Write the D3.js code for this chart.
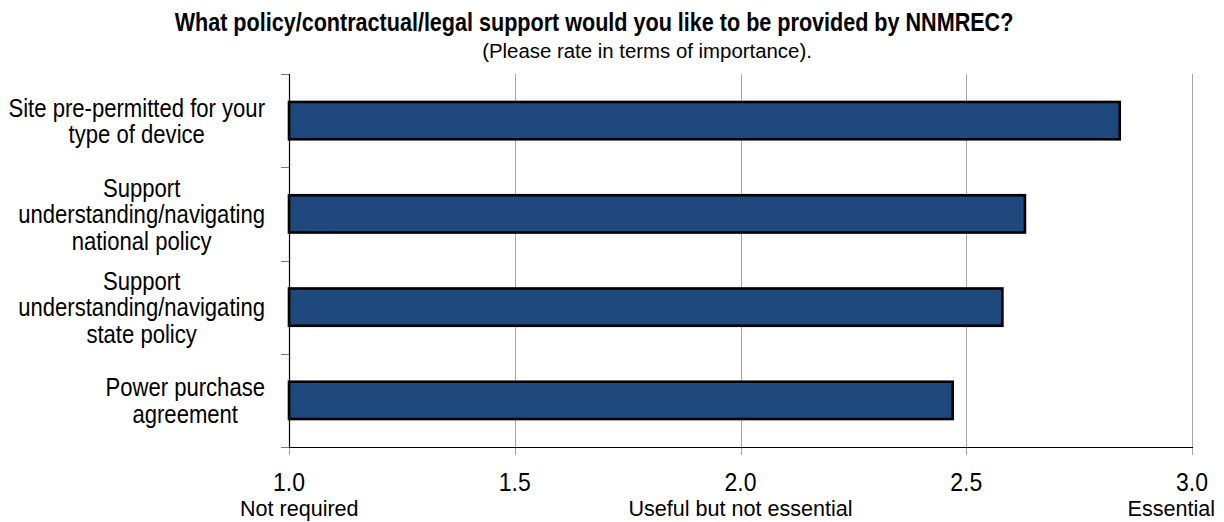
<!DOCTYPE html>
<html>
<head>
<meta charset="utf-8">
<script src="https://cdn.jsdelivr.net/npm/d3@7"></script>
<style>
  html, body { margin: 0; padding: 0; background: #fff; }
  svg { display: block; font-family: "Liberation Sans", Arial, sans-serif; }
</style>
</head>
<body>
<svg id="chart" width="1224" height="522"></svg>
<script>
// Survey answers: average importance rating per support type
const categoryLines = [
  ["Site pre-permitted for your", "type of device"],
  ["Support", "understanding/navigating", "national policy"],
  ["Support", "understanding/navigating", "state policy"],
  ["Power purchase", "agreement"]
];
const values = [2.84, 2.63, 2.58, 2.47];
const tickValues = [1.0, 1.5, 2.0, 2.5, 3.0];
const tickLabels = ["1.0", "1.5", "2.0", "2.5", "3.0"];
const scaleValues = [1.0, 2.0, 3.0];
const scaleLabels = ["Not required", "Useful but not essential", "Essential"];
const titleText = "What policy/contractual/legal support would you like to be provided by NNMREC?";
const subtitleText = "(Please rate in terms of importance).";

const svg = d3.select("#chart");
const plot = { left: 289, right: 1192, top: 74, bottom: 447 };

const x = d3.scaleLinear().domain([1, 3]).range([plot.left, plot.right]);
const y = d3.scaleBand()
  .domain(d3.range(values.length))
  .range([plot.top, plot.bottom])
  .paddingInner(0.6)
  .paddingOuter(0.3);
const step = y.step();

// Text drawn with a horizontal squeeze, anchored at (px, py)
function squeezedText(parent, px, py, str, size, sx, anchor, weight) {
  return parent.append("text")
    .attr("transform", `translate(${px},${py}) scale(${sx},1)`)
    .attr("text-anchor", anchor || "start")
    .attr("font-size", size)
    .attr("font-weight", weight || "normal")
    .attr("fill", "#000")
    .text(str);
}

// Title and subtitle
squeezedText(svg, 594, 31, titleText, 26, 0.83, "middle", "bold");
squeezedText(svg, 647, 58, subtitleText, 20, 1.02, "middle");

// Vertical gridlines (with small ticks below the axis)
svg.append("g").selectAll("line")
  .data(tickValues)
  .join("line")
  .attr("x1", d => Math.round(x(d)) + 0.5)
  .attr("x2", d => Math.round(x(d)) + 0.5)
  .attr("y1", d => d === 1 ? plot.bottom : plot.top)
  .attr("y2", plot.bottom + 8)
  .attr("stroke", "#a6a6a6")
  .attr("stroke-width", 1);

// Bars
svg.append("g").selectAll("rect")
  .data(values)
  .join("rect")
  .attr("x", x(1))
  .attr("y", (d, i) => y(i))
  .attr("width", d => x(d) - x(1))
  .attr("height", y.bandwidth())
  .attr("fill", "#1f497d")
  .attr("stroke", "#000")
  .attr("stroke-width", 2.6);

// Category axis with tick marks at band boundaries
const boundaries = d3.range(values.length + 1).map(i => plot.top + i * step);
svg.append("g").selectAll("line")
  .data(boundaries)
  .join("line")
  .attr("x1", plot.left - 8)
  .attr("x2", plot.left)
  .attr("y1", d => Math.round(d) + 0.5)
  .attr("y2", d => Math.round(d) + 0.5)
  .attr("stroke", "#777")
  .attr("stroke-width", 1);
svg.append("line")
  .attr("x1", plot.left + 0.5).attr("x2", plot.left + 0.5)
  .attr("y1", plot.top).attr("y2", plot.bottom)
  .attr("stroke", "#000").attr("stroke-width", 1.2);

// Value axis line
svg.append("line")
  .attr("x1", plot.left).attr("x2", plot.right + 1)
  .attr("y1", plot.bottom + 0.5).attr("y2", plot.bottom + 0.5)
  .attr("stroke", "#000").attr("stroke-width", 1.2);

// Category labels: centred lines, block aligned to the right of the axis
const catSize = 26, catSx = 0.85, catLh = 26.5, catRight = 265;
const capH = 0.716 * catSize;
const catG = svg.append("g");
categoryLines.forEach((lines, i) => {
  const cy = y(i) + y.bandwidth() / 2;
  const nodes = lines.map((ln, k) => {
    const by = cy + (k - (lines.length - 1) / 2) * catLh + capH / 2;
    return squeezedText(catG, 0, by, ln, catSize, catSx, "middle");
  });
  const maxW = d3.max(nodes, t => t.node().getComputedTextLength() * catSx);
  const cx = catRight - maxW / 2;
  nodes.forEach((t, k) => {
    const by = cy + (k - (lines.length - 1) / 2) * catLh + capH / 2;
    t.attr("transform", `translate(${cx},${by}) scale(${catSx},1)`);
  });
});

// Value tick labels
const tickG = svg.append("g");
tickValues.forEach((v, i) => {
  squeezedText(tickG, x(v), 490.5, tickLabels[i], 25, 0.92, "middle");
});

// Rating descriptions under the numbers
const descG = svg.append("g");
const descAnchor = ["start", "middle", "end"];
const descShift = [-49, 0, 23];
scaleValues.forEach((v, i) => {
  squeezedText(descG, x(v) + descShift[i], 516, scaleLabels[i], 22, 0.98, descAnchor[i]);
});
</script>
</body>
</html>
